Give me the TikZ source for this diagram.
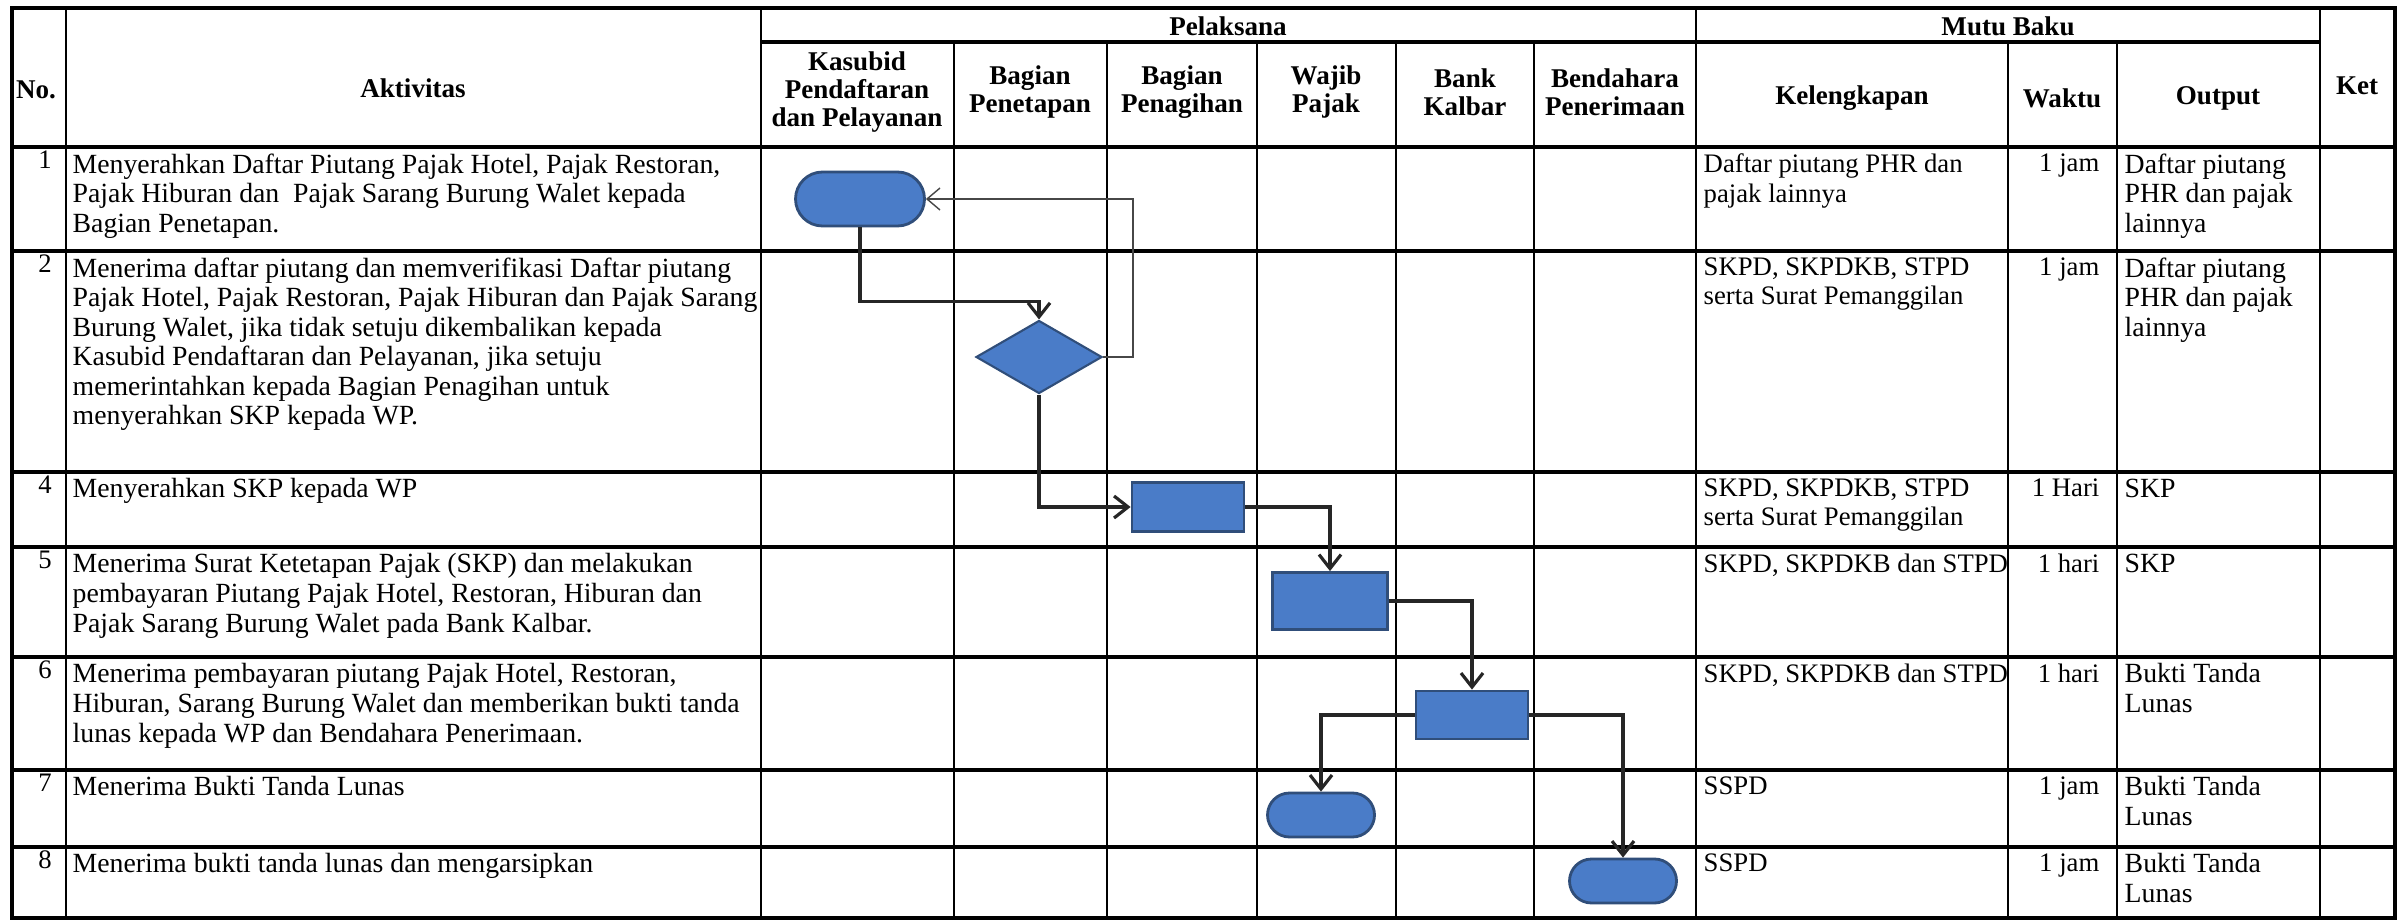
\documentclass[tikz,border=0pt]{standalone}
\usepackage{fontspec}
\setmainfont{Liberation Serif}
\usetikzlibrary{shapes.geometric,shapes.misc,arrows.meta}

\definecolor{boxfill}{RGB}{74,124,200}
\definecolor{boxline}{RGB}{48,78,122}
\definecolor{flowline}{RGB}{38,38,38}

\tikzset{
	rowline/.style={line width=0.95pt, black},
	colline/.style={line width=0.7pt, black},
	term/.style={rounded rectangle, draw=boxline, fill=boxfill, line width=0.8pt, minimum width=10.7mm, minimum height=4.4mm, inner sep=0pt},
	proc/.style={rectangle, draw=boxline, fill=boxfill, line width=0.8pt, minimum width=11.2mm, minimum height=4.9mm, inner sep=0pt},
	decide/.style={diamond, draw=boxline, fill=boxfill, line width=0.6pt, minimum width=12.6mm, minimum height=7.3mm, inner sep=0pt},
	flow/.style={draw=flowline, line width=0.9pt, -{Straight Barb[length=1.4mm,width=2.2mm]}},
	back/.style={draw=flowline!85, line width=0.4pt, -{Straight Barb[length=1.3mm,width=2.2mm]}},
	head/.style={font=\bfseries\fontsize{7.7}{8}\selectfont, align=center, inner sep=0pt},
	txt/.style={font=\fontsize{7.9}{8.4}\selectfont, align=left, anchor=north west, inner sep=0pt},
	mutu/.style={font=\fontsize{7.6}{8.4}\selectfont, align=left, anchor=north west, inner sep=0pt},
	num/.style={font=\fontsize{7.6}{8.4}\selectfont, anchor=north, inner sep=0pt},
}

\begin{document}
\begin{tikzpicture}[x=0.1mm, y=-0.1mm]
\fill[white] (0, 0) rectangle (2400, 923);

\draw[rowline] (761, 42) -- (2320, 42);

\foreach \y in {147, 251, 472, 547, 657, 770, 847}
	\draw[rowline] (12, \y) -- (2395, \y);

\foreach \x in {66, 761, 1696, 2320}
	\draw[colline] (\x, 8) -- (\x, 918);

\foreach \x in {954, 1107, 1257, 1396, 1534, 2008, 2117}
	\draw[colline] (\x, 42) -- (\x, 918);

\draw[rowline] (12, 8) rectangle (2395, 918);

\node[head] (hno) at (36, 90) {No.};
\node[head] (hakt) at (413, 88) {Aktivitas};
\node[head] (hpel) at (1228, 26) {Pelaksana};
\node[head] (hmutu) at (2008, 26) {Mutu Baku};
\node[head] (hket) at (2357, 86) {Ket};

\node[head] (hkasubid) at (857, 92) {Kasubid\\Pendaftaran\\dan Pelayanan};
\node[head] (hpenetapan) at (1030, 92) {Bagian\\Penetapan};
\node[head] (hpenagihan) at (1182, 92) {Bagian\\Penagihan};
\node[head] (hwajib) at (1326, 92) {Wajib\\Pajak};
\node[head] (hbank) at (1465, 92) {Bank\\Kalbar};
\node[head] (hbendahara) at (1615, 92) {Bendahara\\Penerimaan};
\node[head] (hkel) at (1852, 98) {Kelengkapan};
\node[head] (hwaktu) at (2062, 98) {Waktu};
\node[head] (hout) at (2218, 98) {Output};

\node[num] (n1) at (45, 150) {1};
\node[txt] (a1) at (72, 153) {Menyerahkan Daftar Piutang Pajak Hotel, Pajak Restoran,\\Pajak Hiburan dan~ Pajak Sarang Burung Walet kepada\\Bagian Penetapan.};
\node[mutu] (k1) at (1703, 153) {Daftar piutang PHR dan\\pajak lainnya};
\node[mutu, anchor=north east] (w1) at (2100, 153) {1 jam};
\node[txt] (o1) at (2124, 153) {Daftar piutang\\PHR dan pajak\\lainnya};

\node[num] (n2) at (45, 254) {2};
\node[txt] (a2) at (72, 257) {Menerima daftar piutang dan memverifikasi Daftar piutang\\Pajak Hotel, Pajak Restoran, Pajak Hiburan dan Pajak Sarang\\Burung Walet, jika tidak setuju dikembalikan kepada\\Kasubid Pendaftaran dan Pelayanan, jika setuju\\memerintahkan kepada Bagian Penagihan untuk\\menyerahkan SKP kepada WP.};
\node[mutu] (k2) at (1703, 257) {SKPD, SKPDKB, STPD\\serta Surat Pemanggilan};
\node[mutu, anchor=north east] (w2) at (2100, 257) {1 jam};
\node[txt] (o2) at (2124, 257) {Daftar piutang\\PHR dan pajak\\lainnya};

\node[num] (n4) at (45, 475) {4};
\node[txt] (a4) at (72, 478) {Menyerahkan SKP kepada WP};
\node[mutu] (k4) at (1703, 478) {SKPD, SKPDKB, STPD\\serta Surat Pemanggilan};
\node[mutu, anchor=north east] (w4) at (2100, 478) {1 Hari};
\node[txt] (o4) at (2124, 478) {SKP};

\node[num] (n5) at (45, 550) {5};
\node[txt] (a5) at (72, 553) {Menerima Surat Ketetapan Pajak (SKP) dan melakukan\\pembayaran Piutang Pajak Hotel, Restoran, Hiburan dan\\Pajak Sarang Burung Walet pada Bank Kalbar.};
\node[mutu] (k5) at (1703, 553) {SKPD, SKPDKB dan STPD};
\node[mutu, anchor=north east] (w5) at (2100, 553) {1 hari};
\node[txt] (o5) at (2124, 553) {SKP};

\node[num] (n6) at (45, 660) {6};
\node[txt] (a6) at (72, 663) {Menerima pembayaran piutang Pajak Hotel, Restoran,\\Hiburan, Sarang Burung Walet dan memberikan bukti tanda\\lunas kepada WP dan Bendahara Penerimaan.};
\node[mutu] (k6) at (1703, 663) {SKPD, SKPDKB dan STPD};
\node[mutu, anchor=north east] (w6) at (2100, 663) {1 hari};
\node[txt] (o6) at (2124, 663) {Bukti Tanda\\Lunas};

\node[num] (n7) at (45, 773) {7};
\node[txt] (a7) at (72, 776) {Menerima Bukti Tanda Lunas};
\node[mutu] (k7) at (1703, 776) {SSPD};
\node[mutu, anchor=north east] (w7) at (2100, 776) {1 jam};
\node[txt] (o7) at (2124, 776) {Bukti Tanda\\Lunas};

\node[num] (n8) at (45, 850) {8};
\node[txt] (a8) at (72, 853) {Menerima bukti tanda lunas dan mengarsipkan};
\node[mutu] (k8) at (1703, 853) {SSPD};
\node[mutu, anchor=north east] (w8) at (2100, 853) {1 jam};
\node[txt] (o8) at (2124, 853) {Bukti Tanda\\Lunas};

\node[term, minimum width=12.9mm, minimum height=5.4mm] (s1) at (860, 199) {};
\node[decide] (s2) at (1039, 357) {};
\node[proc] (s4) at (1188, 507) {};
\node[proc, minimum width=11.5mm, minimum height=5.7mm] (s5) at (1330, 601) {};
\node[proc, minimum height=4.8mm] (s6) at (1472, 715) {};
\node[term] (s7) at (1321, 815) {};
\node[term] (s8) at (1623, 881) {};

\draw[flow] (s1.south) -- ++(0, 74) -| (s2.north);
\draw[back] (s2.east) -- ++(30, 0) |- (s1.east);
\draw[flow] (s2.south) |- (s4.west);
\draw[flow] (s4.east) -| (s5.north);
\draw[flow] (s5.east) -| (s6.north);
\draw[flow] (s6.west) -| (s7.north);
\draw[flow] (s6.east) -| (s8.north);
\end{tikzpicture}
\end{document}
